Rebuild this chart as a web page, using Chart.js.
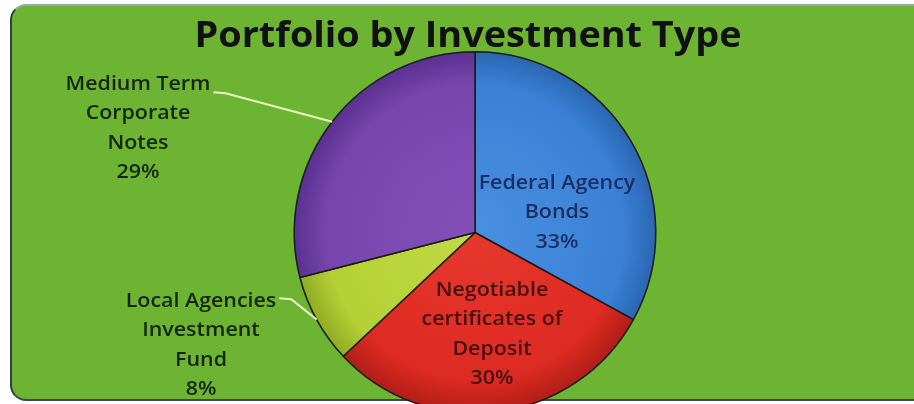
<!DOCTYPE html>
<html>
<head>
<meta charset="utf-8">
<script src="https://cdn.jsdelivr.net/npm/chart.js@4.4.1/dist/chart.umd.min.js"></script>
<style>
html, body { margin: 0; padding: 0; width: 914px; height: 404px; overflow: hidden; background: #fff; }
#frame {
    position: absolute; left: 10px; top: 4px; width: 930px; height: 393px;
    border-radius: 16px; background: #6cb432;
    border-left: 2px solid #2f3f46; border-top: 2px solid #93a9b6; border-bottom: 2px solid #3a4a50;
}
#box { position: absolute; left: 0; top: 0; width: 914px; height: 430px; }
</style>
</head>
<body>
<div id="frame"></div>
<div id="box"><canvas id="pieChart"></canvas></div>
<script>
const ctxPie = document.getElementById('pieChart');

// data
const categories = [
    ['Federal Agency', 'Bonds'],
    ['Negotiable', 'certificates of', 'Deposit'],
    ['Local Agencies', 'Investment', 'Fund'],
    ['Medium Term', 'Corporate', 'Notes']
];
const shares = [33, 30, 8, 29];

// light centre -> base -> darker rim
const sliceColors = [
    ['#4a90e0', '#3a80d6', '#2a66b0'],
    ['#e8382e', '#dd2a22', '#b01e18'],
    ['#c2da46', '#b5d034', '#90aa24'],
    ['#8350b8', '#7746ad', '#5a3090']
];
const labelColors = ['#1c2f63', '#45120e', '#17250c', '#17250c'];

const shadeSlice = (c) => {
    const area = c.chart.chartArea;
    const col = sliceColors[c.dataIndex];
    if (!area) return col[1];
    const cx = (area.left + area.right) / 2;
    const cy = (area.top + area.bottom) / 2;
    const r = Math.min(area.width, area.height) / 2;
    const g = c.chart.ctx.createRadialGradient(cx, cy, 0, cx, cy, r);
    g.addColorStop(0, col[0]);
    g.addColorStop(0.82, col[1]);
    g.addColorStop(1, col[2]);
    return g;
};

// text a little wider than the font, like the scanned original
const wideText = (c, t, x, y, s) => {
    c.save();
    c.translate(x, y);
    c.scale(s, 1);
    c.fillText(t, 0, 0);
    c.restore();
};

const titleText = {
    id: 'titleText',
    afterDraw(chart, args, opts) {
        const c = chart.ctx;
        c.save();
        c.font = opts.font;
        c.fillStyle = '#111';
        c.textAlign = 'center';
        c.textBaseline = 'alphabetic';
        wideText(c, opts.text, opts.x, opts.y, opts.width / c.measureText(opts.text).width);
        c.restore();
    }
};

const sliceLabels = {
    id: 'sliceLabels',
    afterDatasetsDraw(chart, args, opts) {
        const c = chart.ctx;
        const arcs = chart.getDatasetMeta(0).data;
        c.save();
        c.font = opts.font;
        c.textAlign = 'center';
        c.textBaseline = 'middle';
        arcs.forEach((arc, i) => {
            const spot = opts.spots[i];
            const lines = categories[i].concat(shares[i] + '%');
            const x = arc.x + spot.dx;
            const top = arc.y + spot.dy - (lines.length - 1) * opts.lineGap / 2;
            if (spot.leader) {
                const mid = (arc.startAngle + arc.endAngle) / 2;
                const rx = arc.x + Math.cos(mid) * arc.outerRadius;
                const ry = arc.y + Math.sin(mid) * arc.outerRadius;
                const sx = x + c.measureText(lines[0]).width * opts.stretch / 2 + 3;
                const sy = top + spot.leader;
                c.strokeStyle = '#eef4c8';
                c.lineWidth = 2;
                c.beginPath();
                c.moveTo(sx, sy);
                c.lineTo(sx + 12, sy + 1);
                c.lineTo(rx, ry);
                c.stroke();
            }
            c.fillStyle = labelColors[i];
            lines.forEach((t, k) => wideText(c, t, x, top + k * opts.lineGap, opts.stretch));
        });
        c.restore();
    }
};

const pieChart = new Chart(ctxPie, {
    type: 'pie',
    data: {
        labels: categories.map(l => l.join(' ')),
        datasets: [{
            data: shares,
            backgroundColor: shadeSlice,
            borderColor: '#1a1a1a',
            borderWidth: 1.5
        }]
    },
    options: {
        responsive: true,
        maintainAspectRatio: false,
        animation: false,
        layout: {
            padding: { top: 51, bottom: 16, left: 36, right: 0 }
        },
        plugins: {
            legend: { display: false },
            tooltip: { enabled: false },
            titleText: { text: 'Portfolio by Investment Type', font: 'bold 36px "Open Sans"', x: 468, y: 47, width: 547 },
            sliceLabels: {
                font: '600 20px "Open Sans"',
                stretch: 1.07,
                lineGap: 29.5,
                spots: [
                    { dx: 82, dy: -20 },
                    { dx: 17, dy: 102 },
                    { dx: -274, dy: 113, leader: -3 },
                    { dx: -337, dy: -104, leader: 8 }
                ]
            }
        }
    },
    plugins: [sliceLabels, titleText]
});
</script>
</body>
</html>
